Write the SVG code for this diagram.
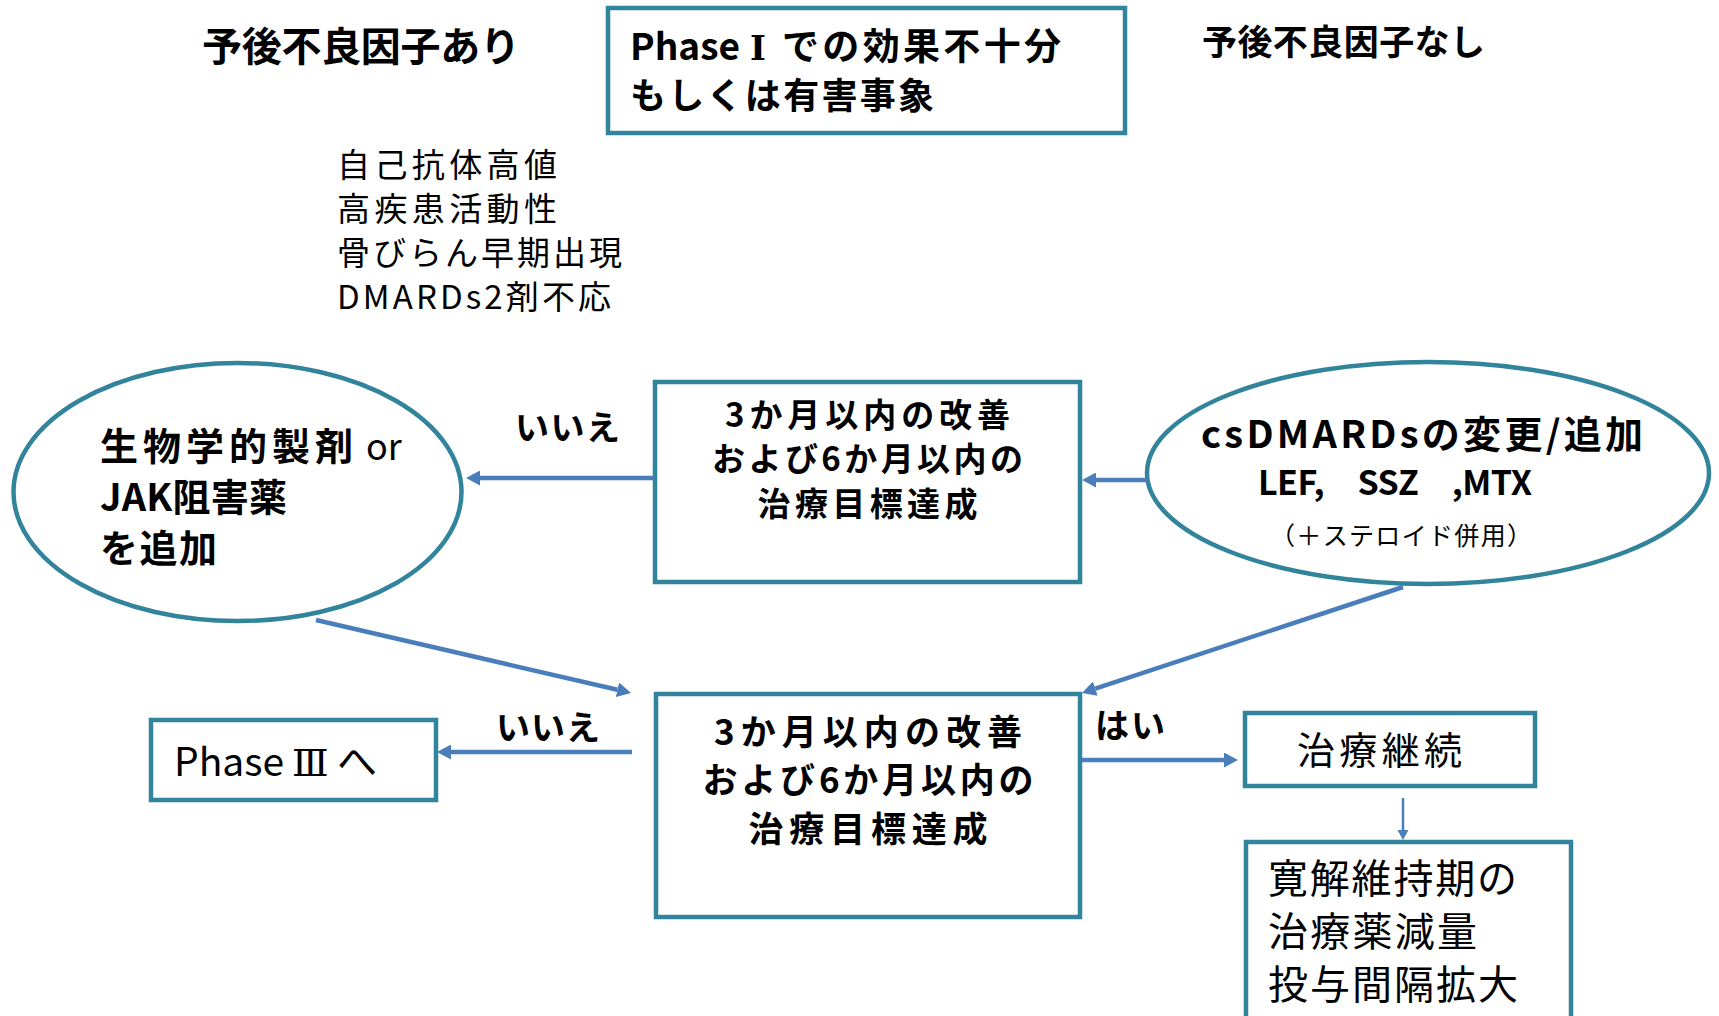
<svg xmlns="http://www.w3.org/2000/svg" width="1719" height="1016" viewBox="0 0 1719 1016">
<style>
  .box { fill: #ffffff; stroke: #31849B; stroke-width: 4.5; }
  .t { font-family: "Noto Sans CJK JP", "Noto Sans", sans-serif; fill: #000000; }
  .rn { font-family: "DejaVu Serif", "Liberation Serif", "Noto Sans CJK JP", serif; fill: #000000; }
  .b { font-weight: bold; }
  .conn { stroke: #4A7EBB; stroke-width: 4.5; fill: none; }
  .thin { stroke: #4A7EBB; stroke-width: 2.5; fill: none; }
</style>
<defs>
  <marker id="ah" markerUnits="userSpaceOnUse" markerWidth="14" markerHeight="15" refX="0" refY="7.5" orient="auto" viewBox="0 0 14 15">
    <path d="M0,0 L14,7.5 L0,15 z" fill="#4A7EBB"/>
  </marker>
  <marker id="ahs" markerUnits="userSpaceOnUse" markerWidth="10" markerHeight="11" refX="0" refY="5.5" orient="auto" viewBox="0 0 10 11">
    <path d="M0,0 L10,5.5 L0,11 z" fill="#4A7EBB"/>
  </marker>
</defs>
<rect width="1719" height="1016" fill="#ffffff"/>

<g id="label-poor">
  <text class="t b" x="202" y="61" font-size="40" textLength="318" lengthAdjust="spacing">予後不良因子あり</text>
</g>
<g id="label-good">
  <text class="t b" x="1202" y="55" font-size="35" textLength="283" lengthAdjust="spacing">予後不良因子なし</text>
</g>
<g id="node-phase1">
  <rect class="box" x="608" y="8" width="517" height="125"/>
  <text class="t b" x="630" y="60" font-size="37">Phase</text>
  <text class="rn b" x="750" y="60" font-size="34">Ⅰ</text>
  <text class="t b" x="782" y="60" font-size="37" textLength="279" lengthAdjust="spacing">での効果不十分</text>
  <text class="t b" x="630" y="109" font-size="36" textLength="304" lengthAdjust="spacing">もしくは有害事象</text>
</g>
<g id="risk-list">
  <text class="t" x="337" y="177" font-size="33" textLength="220" lengthAdjust="spacing">自己抗体高値</text>
  <text class="t" x="337" y="221" font-size="33" textLength="220" lengthAdjust="spacing">高疾患活動性</text>
  <text class="t" x="337" y="265" font-size="33" textLength="285" lengthAdjust="spacing">骨びらん早期出現</text>
  <text class="t" x="337" y="309" font-size="33" textLength="274" lengthAdjust="spacing">DMARDs2剤不応</text>
</g>
<g id="node-bio">
  <ellipse class="box" cx="237.5" cy="492" rx="224" ry="129"/>
  <text class="t b" x="100" y="460" font-size="38" textLength="253" lengthAdjust="spacing">生物学的製剤</text>
  <text class="t" x="366" y="460" font-size="36">or</text>
  <text class="t b" x="100" y="511" font-size="38" textLength="187" lengthAdjust="spacing">JAK阻害薬</text>
  <text class="t b" x="100" y="562" font-size="38" textLength="117" lengthAdjust="spacing">を追加</text>
</g>
<g id="node-check1">
  <rect class="box" x="655" y="382" width="425" height="200"/>
  <text class="t b" x="867.5" y="427" font-size="33" text-anchor="middle" textLength="285" lengthAdjust="spacing">3か月以内の改善</text>
  <text class="t b" x="867.5" y="471" font-size="33" text-anchor="middle" textLength="311" lengthAdjust="spacing">および6か月以内の</text>
  <text class="t b" x="867.5" y="516" font-size="33" text-anchor="middle" textLength="220" lengthAdjust="spacing">治療目標達成</text>
</g>
<g id="node-csdmards">
  <ellipse class="box" cx="1428" cy="473" rx="281" ry="111"/>
  <text class="t b" x="1422" y="448" font-size="38" text-anchor="middle" textLength="442" lengthAdjust="spacing">csDMARDsの変更/追加</text>
  <text class="t b" x="1395" y="495" font-size="34" text-anchor="middle" textLength="274" lengthAdjust="spacing">LEF,　SSZ　,MTX</text>
  <text class="t" x="1401" y="545" font-size="25" text-anchor="middle" textLength="262" lengthAdjust="spacing">（＋ステロイド併用）</text>
</g>
<g id="node-check2">
  <rect class="box" x="656" y="694" width="424" height="223"/>
  <text class="t b" x="868" y="745" font-size="35" text-anchor="middle" textLength="308" lengthAdjust="spacing">3か月以内の改善</text>
  <text class="t b" x="868" y="793" font-size="35" text-anchor="middle" textLength="331" lengthAdjust="spacing">および6か月以内の</text>
  <text class="t b" x="868" y="842" font-size="35" text-anchor="middle" textLength="239" lengthAdjust="spacing">治療目標達成</text>
</g>
<g id="node-phase3">
  <rect class="box" x="151" y="720" width="285" height="80"/>
  <text class="t" x="174" y="776" font-size="39">Phase</text>
  <text class="rn" x="292" y="776" font-size="38">Ⅲ</text>
  <text class="t" x="337" y="776" font-size="40">へ</text>
</g>
<g id="node-continue">
  <rect class="box" x="1245" y="713" width="290" height="73"/>
  <text class="t" x="1297" y="764" font-size="38" textLength="165" lengthAdjust="spacing">治療継続</text>
</g>
<g id="node-taper">
  <rect class="box" x="1246" y="842" width="325" height="200"/>
  <text class="t" x="1268" y="893" font-size="40" textLength="249" lengthAdjust="spacing">寛解維持期の</text>
  <text class="t" x="1268" y="946" font-size="40" textLength="209" lengthAdjust="spacing">治療薬減量</text>
  <text class="t" x="1268" y="999" font-size="40" textLength="250" lengthAdjust="spacing">投与間隔拡大</text>
</g>

<g id="connectors">
  <line class="conn" x1="655" y1="478" x2="480" y2="478" marker-end="url(#ah)"/>
  <line class="conn" x1="1147" y1="480" x2="1096" y2="480" marker-end="url(#ah)"/>
  <line class="conn" x1="316" y1="620" x2="617.4" y2="689.8" marker-end="url(#ah)"/>
  <line class="conn" x1="1403" y1="587" x2="1095.3" y2="688.6" marker-end="url(#ah)"/>
  <line class="conn" x1="632" y1="752" x2="451" y2="752" marker-end="url(#ah)"/>
  <line class="conn" x1="1082" y1="760" x2="1224" y2="760" marker-end="url(#ah)"/>
  <line class="thin" x1="1403" y1="798" x2="1403" y2="830" marker-end="url(#ahs)"/>
  <text class="t b" x="515" y="440" font-size="34" textLength="105" lengthAdjust="spacing">いいえ</text>
  <text class="t b" x="496" y="740" font-size="34" textLength="104" lengthAdjust="spacing">いいえ</text>
  <text class="t b" x="1095" y="738" font-size="34" textLength="70" lengthAdjust="spacing">はい</text>
</g>
</svg>
